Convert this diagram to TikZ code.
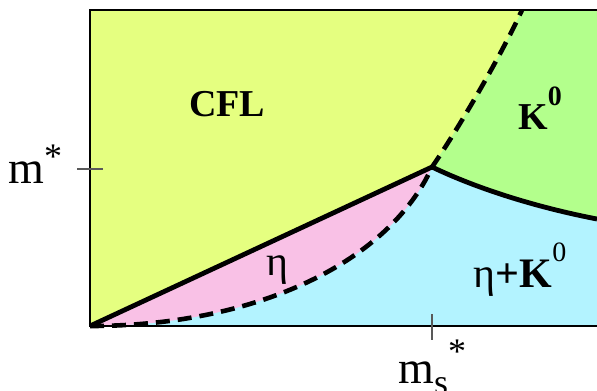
\documentclass[tikz,border=0pt]{standalone}
\usepackage{fontspec}
\setmainfont{Liberation Serif}[BoldFont={Liberation Serif Bold},ItalicFont={Liberation Serif Italic}]
\definecolor{cflyellow}{RGB}{229,255,128}
\definecolor{kaongreen}{RGB}{179,255,140}
\definecolor{etapink}{RGB}{249,193,230}
\definecolor{mixcyan}{RGB}{179,243,255}
\newcommand{\supz}[1]{\raisebox{0.62em}{\fontsize{14}{14}\selectfont #1}}
\tikzset{
  phaseline/.style={line width=2.4pt},
  dashline/.style={line width=2.3pt,dash pattern=on 7pt off 4pt},
  tickmark/.style={black!65,line width=0.8pt},
  phaselabel/.style={font=\fontsize{19}{20}\selectfont\bfseries,inner sep=0pt},
  etalabel/.style={font=\fontsize{21}{22}\selectfont,inner sep=0pt},
  axislabel/.style={font=\fontsize{23}{24}\selectfont,inner sep=0pt},
}
\begin{document}
\begin{tikzpicture}[x=0.5pt,y=-0.5pt]
\useasboundingbox (0,0) rectangle (597,390);
% corners and meeting points
\coordinate (O) at (90,326);
\coordinate (TL) at (90,10);
\coordinate (TR) at (597,10);
\coordinate (BR) at (597,326);
\coordinate (C) at (432,167);
\coordinate (D) at (522,10);
\coordinate (R) at (597,219);
% phase regions
\fill[mixcyan] (O) rectangle (TR);
\fill[cflyellow] (O) -- (C) .. controls (455,134) and (500,58) .. (D) -- (TL) -- cycle;
\fill[kaongreen] (C) .. controls (455,134) and (500,58) .. (D) -- (TR) -- (R) .. controls (540,208) and (480,190) .. (C) -- cycle;
\fill[etapink] (O) -- (C) .. controls (390,260) and (260,326) .. (O) -- cycle;
% boundaries
\draw[phaseline] (O) -- (C);
\draw[phaseline] (C) .. controls (480,190) and (540,208) .. (R);
\draw[dashline] (O) .. controls (260,326) and (390,260) .. (C) .. controls (455,134) and (500,58) .. (D);
\draw[line width=0.75pt] (BR) -- (O) -- (TL) -- (TR);
% axis ticks
\coordinate (mtick) at (90,169);
\coordinate (stick) at (432,326);
\draw[tickmark] (mtick) ++(-13,0) -- ++(26,0);
\draw[tickmark] (stick) ++(0,-12) -- ++(0,26);
\node[axislabel,anchor=base west] (mstar) at (8,183) {m\raisebox{0.32em}{\fontsize{18}{18}\selectfont *}};
\node[axislabel,anchor=base west] (msstar) at (398,383) {m\raisebox{-0.25em}{\fontsize{18}{18}\selectfont s}\raisebox{0.42em}{\fontsize{18}{18}\selectfont *}};
% phase labels
\node[phaselabel] (cfl) at (227,104) {CFL};
\node[phaselabel] (kaon) at (540,108) {K\supz{\bfseries 0}};
\node[etalabel] (eta) at (277,270) {η};
\node[etalabel] (etakaon) at (520,270) {η\textbf{+K}\supz{0}};
\end{tikzpicture}
\end{document}
